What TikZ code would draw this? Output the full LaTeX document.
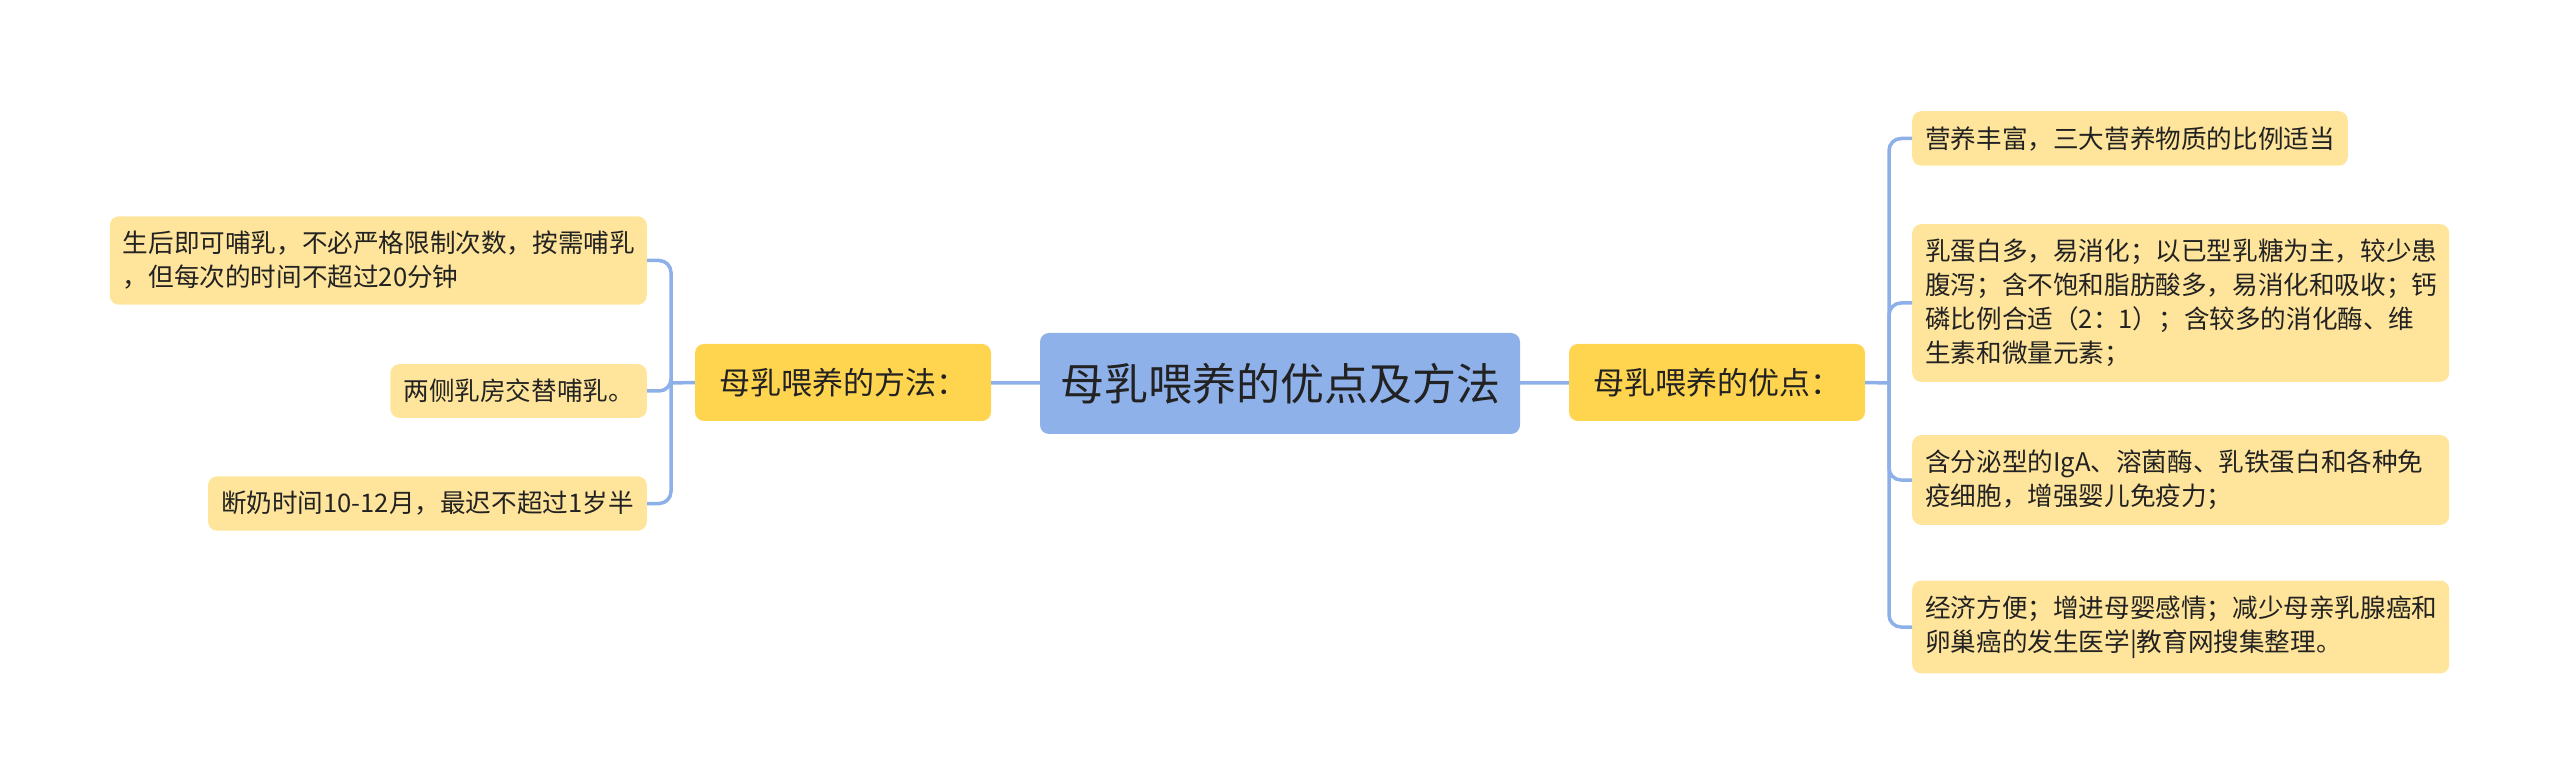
\documentclass[tikz,border=0pt]{standalone}
\usepackage{fontspec}
\setmainfont{Noto Sans CJK SC}
\usepackage{tikz}

\definecolor{rootblue}{HTML}{8EB1EA}
\definecolor{midyellow}{HTML}{FFD44F}
\definecolor{leafyellow}{HTML}{FFE59B}
\definecolor{linkblue}{HTML}{8DB0E8}
\definecolor{textgray}{HTML}{222222}

\begin{document}
\begin{tikzpicture}[x=1pt,y=-1pt,
	root/.style={fill=rootblue,rounded corners=9pt,minimum width=480pt,minimum height=101pt,inner sep=0pt,font=\fontsize{44}{52}\selectfont,text=textgray},
	branch/.style={fill=midyellow,rounded corners=9pt,minimum width=296pt,minimum height=77pt,inner sep=0pt,font=\fontsize{31}{38}\selectfont,text=textgray},
	leaf/.style={fill=leafyellow,rounded corners=9pt,align=left,inner xsep=13pt,inner ysep=15pt,font=\fontsize{25.6}{34}\selectfont,text=textgray},
	wideleaf/.style={leaf,text width=511pt},
	link/.style={draw=linkblue,line width=3.5pt,rounded corners=12pt}]
				\useasboundingbox (0,0) rectangle (2560,783);
				\node[root] (top) at (1280, 383.5) {母乳喂养的优点及方法};
				\node[branch] (meth) at (843, 382.5) {母乳喂养的方法：};
				\node[branch] (adv) at (1717, 382.5) {母乳喂养的优点：};
				\node[wideleaf, anchor=east] (m1) at (647, 260.5) {生后即可哺乳，不必严格限制次数，按需哺乳\\，但每次的时间不超过20分钟};
				\node[leaf, anchor=east] (m2) at (647, 391) {两侧乳房交替哺乳。};
				\node[leaf, anchor=east] (m3) at (647, 503.5) {断奶时间10-12月，最迟不超过1岁半};
				\node[leaf, anchor=west] (a1) at (1912, 138.5) {营养丰富，三大营养物质的比例适当};
				\node[wideleaf, anchor=west] (a2) at (1912, 303) {乳蛋白多，易消化；以已型乳糖为主，较少患\\腹泻；含不饱和脂肪酸多，易消化和吸收；钙\\磷比例合适（2：1）；含较多的消化酶、维\\生素和微量元素；};
				\node[wideleaf, anchor=west] (a3) at (1912, 480) {含分泌型的IgA、溶菌酶、乳铁蛋白和各种免\\疫细胞，增强婴儿免疫力；};
				\node[wideleaf, anchor=west] (a4) at (1912, 627) {经济方便；增进母婴感情；减少母亲乳腺癌和\\卵巢癌的发生医学|教育网搜集整理。};
				\coordinate (lt) at (671, 383);
				\coordinate (rt) at (1889, 383);
				\draw[link] (top) -- (meth);
				\draw[link] (top) -- (adv);
				\draw[link] (meth.west) -- (lt);
				\draw[link] (adv.east) -- (rt);
				\draw[link] (lt) |- (m1.east);
				\draw[link] (lt) |- (m2.east);
				\draw[link] (lt) |- (m3.east);
				\draw[link] (rt) |- (a1.west);
				\draw[link] (rt) |- (a2.west);
				\draw[link] (rt) |- (a3.west);
				\draw[link] (rt) |- (a4.west);
\end{tikzpicture}
\end{document}
